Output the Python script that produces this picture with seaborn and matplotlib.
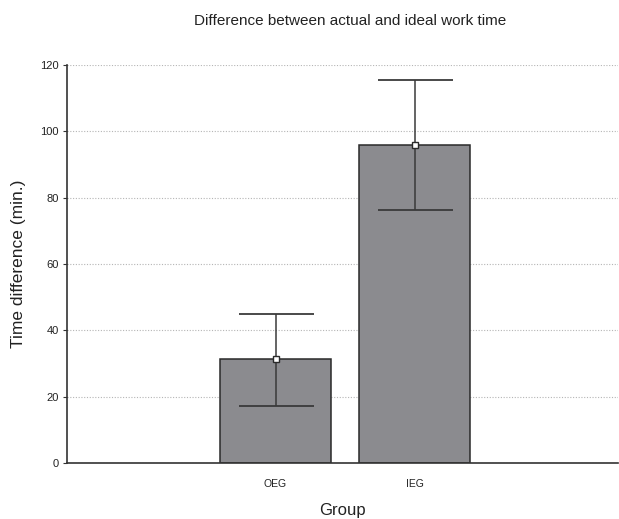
import matplotlib
matplotlib.use("Agg")
import matplotlib.pyplot as plt
import seaborn as sns
import numpy as np
import pandas as pd

groups = ["OEG", "IEG"]
means = [31.3, 95.9]
lower = [17.2, 76.3]
upper = [44.9, 115.5]
y_ticks = [0, 20, 40, 60, 80, 100, 120]

df = pd.DataFrame({"Group": groups, "Mean": means})

sns.set_style("white")
plt.rcParams["font.family"] = ["Liberation Sans", "DejaVu Sans"]

fig = plt.figure(figsize=(6.19, 5.19), dpi=100)
ax = fig.add_axes([0.108, 0.108, 0.89, 0.767])

sns.barplot(data=df, x="Group", y="Mean", ax=ax, color="#8b8b8f",
            edgecolor="#2a2a2a", linewidth=1.1, width=0.8, errorbar=None,
            saturation=1, zorder=2)

xs = np.arange(len(groups))
m = np.array(means)
yerr = np.vstack([m - np.array(lower), np.array(upper) - m])
ax.errorbar(xs, m, yerr=yerr, fmt="none", ecolor="#3a3a3a", elinewidth=1.1,
            capsize=27, capthick=1.3, zorder=3)
ax.plot(xs, m, linestyle="none", marker="s", markersize=5,
        markerfacecolor="white", markeredgecolor="#2a2a2a",
        markeredgewidth=1.0, zorder=4)

ax.set_ylim(0, 120)
ax.set_xlim(-1.5, 2.46)
ax.set_yticks(y_ticks)
ax.yaxis.grid(True, linestyle=(0, (1, 1.5)), color="#b5b5b5", linewidth=0.8)
ax.set_axisbelow(True)

for s in ["top", "right"]:
    ax.spines[s].set_visible(False)
for s in ["left", "bottom"]:
    ax.spines[s].set_color("#333333")
    ax.spines[s].set_linewidth(1.2)

ax.tick_params(axis="y", which="both", left=True, length=3, width=0.8,
               color="#333333", labelsize=8, labelcolor="#222222", pad=3)
ax.tick_params(axis="x", bottom=False, labelsize=7.5, labelcolor="#222222", pad=8)

ax.set_xlabel("Group", fontsize=12, color="#222222", labelpad=10)
ax.set_ylabel("Time difference (min.)", fontsize=12.5, color="#222222", labelpad=10)
fig.suptitle("Difference between actual and ideal work time", fontsize=11,
             color="#222222", x=0.565, y=0.973)

fig.savefig("out.png", dpi=100)
